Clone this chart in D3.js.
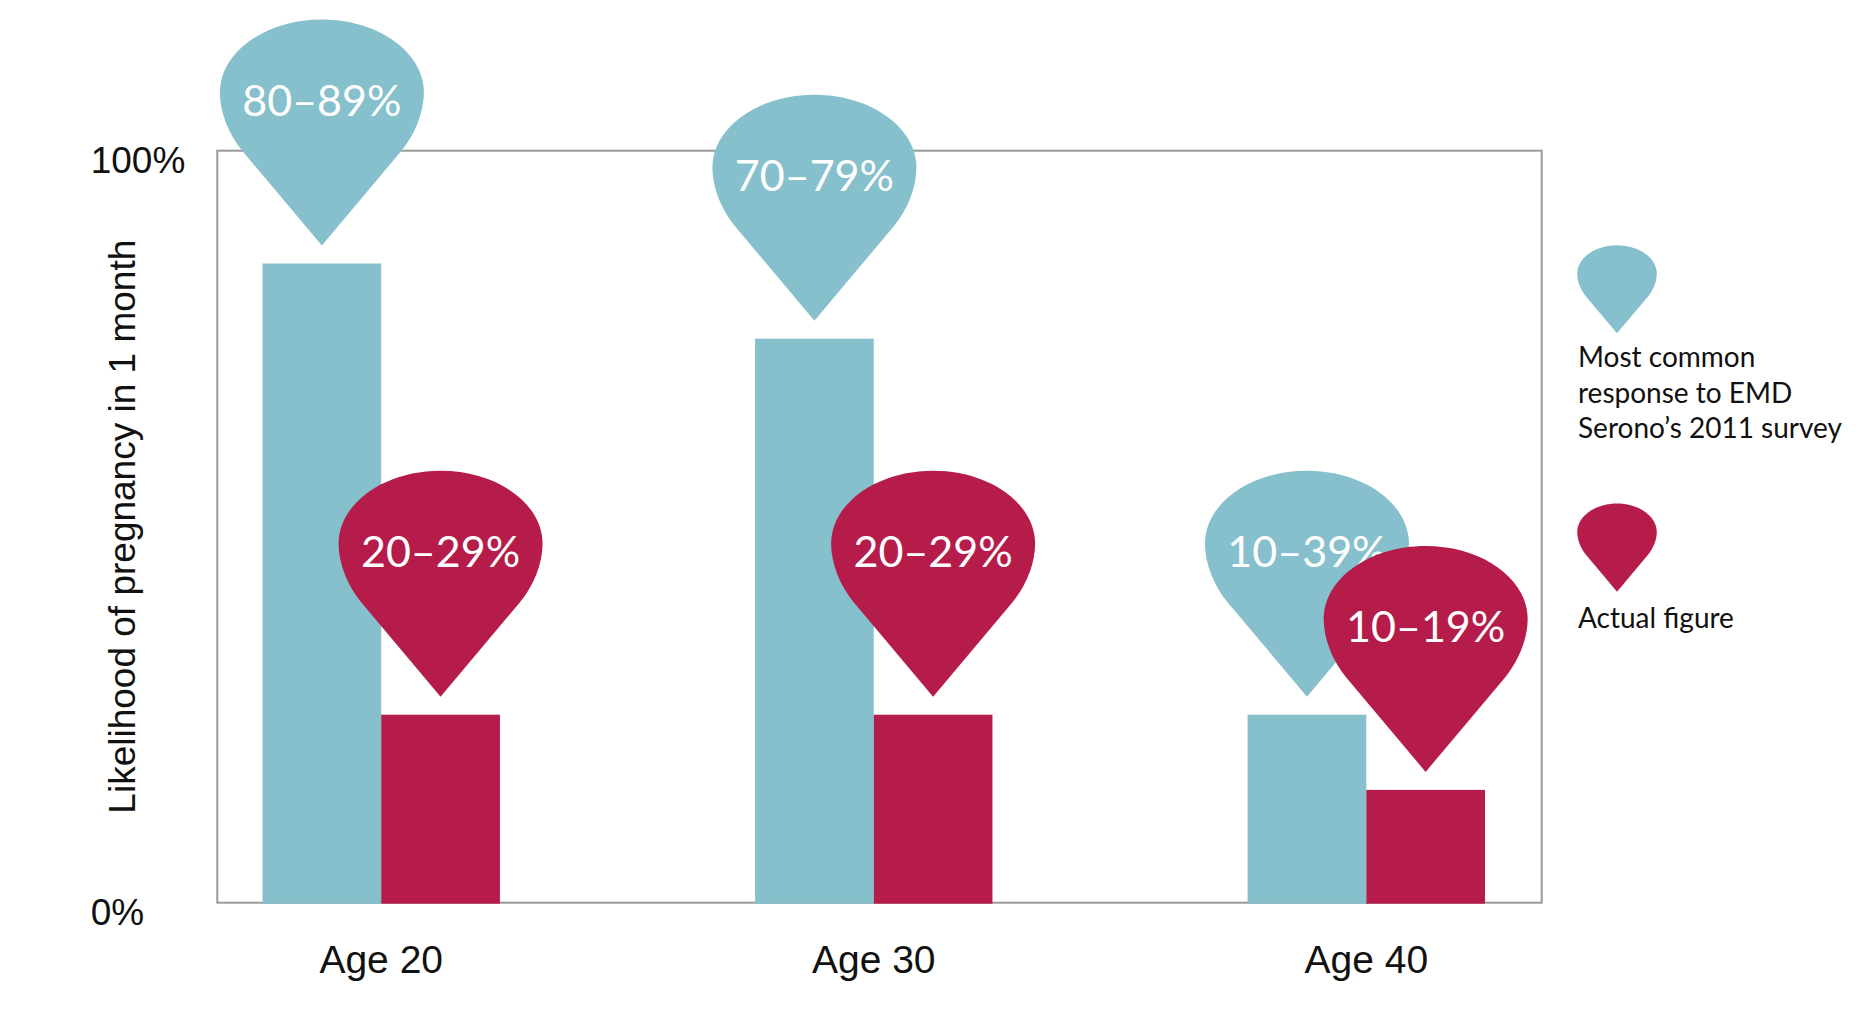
<!DOCTYPE html>
<html><head><meta charset="utf-8">
<script src="https://cdn.jsdelivr.net/npm/d3@7"></script>
<style>body{margin:0;background:#fff;overflow:hidden}</style>
</head><body><svg id="chart" width="1873" height="1021"></svg>
<script>
// ---- data ----
const categories = ["Age 20", "Age 30", "Age 40"];
const seriesNames = ["survey", "actual"];
const surveyValues = [85, 75, 25];
const actualValues = [25, 25, 15];
const surveyLabels = ["80–89%", "70–79%", "10–39%"];
const actualLabels = ["20–29%", "20–29%", "10–19%"];
const yTickValues = [0, 100];
const yTickLabels = ["0%", "100%"];
const yTitle = "Likelihood of pregnancy in 1 month";
const legendSurveyLines = ["Most common", "response to EMD", "Serono’s 2011 survey"];
const legendActualLines = ["Actual figure"];

// ---- styling ----
const colors = { survey: "#85C0CC", actual: "#B51C49" };
const W = 1873, H = 1021;
const frame = { left: 217.3, right: 1541.7, top: 150.7, bottom: 902.7 };
const axisFont = "'Liberation Sans', Arial, sans-serif";
const labelFont = "Lato, 'Open Sans', sans-serif";

const svg = d3.select("#chart");

const x0 = d3.scaleBand().domain(categories).range([262.5, 1485]).paddingInner(0.518).paddingOuter(0);
const x1 = d3.scaleBand().domain(seriesNames).range([0, x0.bandwidth()]).padding(0);
const y = d3.scaleLinear().domain([0, 100]).range([frame.bottom, frame.top]);

const rows = categories.map((c, i) => ({
  cat: c,
  items: [
    { key: "survey", value: surveyValues[i], label: surveyLabels[i] },
    { key: "actual", value: actualValues[i], label: actualLabels[i] }
  ]
}));

// frame
svg.append("rect")
  .attr("x", frame.left).attr("y", frame.top)
  .attr("width", frame.right - frame.left).attr("height", frame.bottom - frame.top)
  .attr("fill", "none").attr("stroke", "#9a9a9a").attr("stroke-width", 2);

// y axis (0% / 100%)
const yAxis = svg.append("g")
  .attr("transform", `translate(${frame.left},0)`)
  .call(d3.axisLeft(y).tickValues(yTickValues).tickSize(0)
    .tickFormat((d, i) => yTickLabels[i]));
yAxis.select(".domain").remove();
yAxis.selectAll("text")
  .attr("x", 90.7 - frame.left).attr("dy", 22)
  .attr("text-anchor", "start")
  .style("font-family", axisFont).style("font-size", "37px").attr("fill", "#111");

// x axis
const xAxis = svg.append("g")
  .attr("transform", `translate(0,${frame.bottom})`)
  .call(d3.axisBottom(x0).tickSize(0));
xAxis.select(".domain").remove();
xAxis.selectAll("text")
  .attr("y", 70).attr("dy", 0)
  .style("font-family", axisFont).style("font-size", "39px").attr("fill", "#111");

// y title
svg.append("text")
  .attr("transform", `translate(135,${(frame.top + frame.bottom) / 2}) rotate(-90)`)
  .attr("text-anchor", "middle")
  .style("font-family", axisFont).style("font-size", "37px").attr("fill", "#111")
  .text(yTitle);

// bars
const groups = svg.append("g").selectAll("g").data(rows).join("g")
  .attr("transform", d => `translate(${x0(d.cat)},0)`);
groups.selectAll("rect").data(d => d.items).join("rect")
  .attr("x", d => x1(d.key))
  .attr("width", x1.bandwidth())
  .attr("y", d => y(d.value))
  .attr("height", d => y(0) - y(d.value) + 1)
  .attr("fill", d => colors[d.key]);

// pin shape, tip at (0,0)
function pinPath(s) {
  const p = d3.path();
  p.moveTo(0, 0);
  p.lineTo(-79 * s, -94 * s);
  p.bezierCurveTo(-93 * s, -111 * s, -102 * s, -133 * s, -102 * s, -153 * s);
  p.bezierCurveTo(-102 * s, -193.3 * s, -56.3 * s, -226 * s, 0, -226 * s);
  p.bezierCurveTo(56.3 * s, -226 * s, 102 * s, -193.3 * s, 102 * s, -153 * s);
  p.bezierCurveTo(102 * s, -133 * s, 93 * s, -111 * s, 79 * s, -94 * s);
  p.closePath();
  return p.toString();
}

const pinGap = 18;
seriesNames.forEach(key => {
  const layer = svg.append("g");
  const pins = layer.selectAll("g").data(rows.map(r => ({ cat: r.cat, ...r.items.find(it => it.key === key) })))
    .join("g")
    .attr("transform", d => `translate(${x0(d.cat) + x1(key) + x1.bandwidth() / 2},${y(d.value) - pinGap})`);
  pins.append("path").attr("d", pinPath(1)).attr("fill", colors[key]);
  pins.append("text")
    .attr("y", -130)
    .attr("text-anchor", "middle")
    .style("font-family", labelFont).style("font-size", "43px").attr("fill", "#fff")
    .text(d => d.label);
});

// legend
const legend = svg.append("g");
const legendItems = [
  { key: "survey", tipY: 333.3, lines: legendSurveyLines, baseline: 367.3 },
  { key: "actual", tipY: 591.7, lines: legendActualLines, baseline: 628.3 }
];
legendItems.forEach(it => {
  legend.append("path")
    .attr("transform", `translate(1617,${it.tipY})`)
    .attr("d", pinPath(0.39)).attr("fill", colors[it.key]);
  const t = legend.append("text")
    .attr("x", 1578).attr("y", it.baseline)
    .style("font-family", labelFont).style("font-size", "28px").attr("fill", "#111");
  it.lines.forEach((ln, i) => {
    t.append("tspan").attr("x", 1578).attr("dy", i === 0 ? 0 : 35.5).text(ln);
  });
});
</script>
</body></html>
